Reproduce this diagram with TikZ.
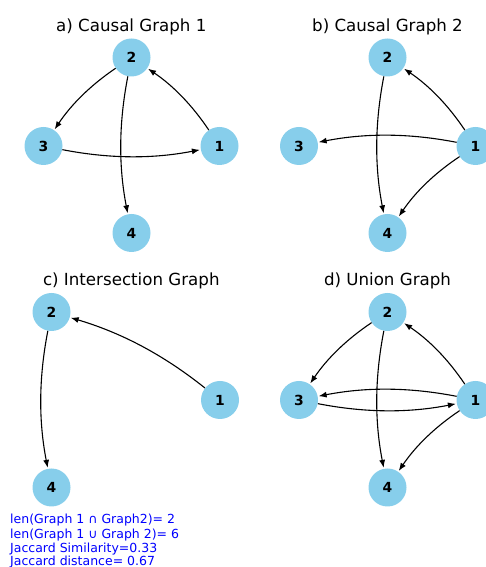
\documentclass[tikz,border=0pt]{standalone}
\usepackage{fontspec}
\setmainfont{DejaVu Sans}
\usetikzlibrary{arrows.meta}
\definecolor{skyblue}{HTML}{87CEEB}
\tikzset{
  x=1pt, y=1pt,
  vert/.style={circle, fill=skyblue, draw=none, minimum size=38pt, inner sep=0pt,
    font=\fontsize{13.9}{16}\selectfont\bfseries},
  edge/.style={draw=black, line width=1.1pt, -{Latex[length=8pt,width=6pt]},
    shorten >=0.8pt, bend right=11, looseness=0.9},
  ttl/.style={anchor=base, font=\fontsize{16.67}{20}\selectfont},
  info/.style={anchor=base west, text=blue, font=\fontsize{12.5}{14}\selectfont, inner sep=0pt}
}
\begin{document}
\begin{tikzpicture}
\useasboundingbox (0,0) rectangle (485,567);
% panel a
\node[ttl] (ta) at (131.3,535.7) {a) Causal Graph 1};
\node[vert] (a2) at (131.5,509.5) {2};
\node[vert] (a3) at (43.5,421) {3};
\node[vert] (a1) at (219.5,421) {1};
\node[vert] (a4) at (131.5,334) {4};
\draw[edge] (a2) to (a3);
\draw[edge] (a3) to (a1);
\draw[edge] (a1) to (a2);
\draw[edge] (a2) to (a4);
% panel b
\node[ttl] (tb) at (387.5,535.7) {b) Causal Graph 2};
\node[vert] (b2) at (387.5,509.5) {2};
\node[vert] (b3) at (299,421) {3};
\node[vert] (b1) at (475.5,421) {1};
\node[vert] (b4) at (387.5,334) {4};
\draw[edge] (b1) to (b2);
\draw[edge] (b1) to (b3);
\draw[edge] (b1) to (b4);
\draw[edge] (b2) to (b4);
% panel c
\node[ttl] (tc) at (131.3,281) {c) Intersection Graph};
\node[vert] (c2) at (51.5,255) {2};
\node[vert] (c1) at (220,167) {1};
\node[vert] (c4) at (51.5,79.5) {4};
\draw[edge] (c1) to (c2);
\draw[edge] (c2) to (c4);
% panel d
\node[ttl] (td) at (387.5,281) {d) Union Graph};
\node[vert] (d2) at (387.5,255) {2};
\node[vert] (d3) at (299,167) {3};
\node[vert] (d1) at (475.5,167) {1};
\node[vert] (d4) at (387.5,79.5) {4};
\draw[edge] (d2) to (d3);
\draw[edge] (d3) to (d1);
\draw[edge] (d1) to (d2);
\draw[edge] (d2) to (d4);
\draw[edge] (d1) to (d3);
\draw[edge] (d1) to (d4);
% info text
\node[info] (i1) at (10,43) {len(Graph 1 ∩ Graph2)= 2};
\node[info] (i2) at (10,28.7) {len(Graph 1 ∪ Graph 2)= 6};
\node[info] (i3) at (10,14.3) {Jaccard Similarity=0.33};
\node[info] (i4) at (10,1.5) {Jaccard distance= 0.67};
\end{tikzpicture}
\end{document}
